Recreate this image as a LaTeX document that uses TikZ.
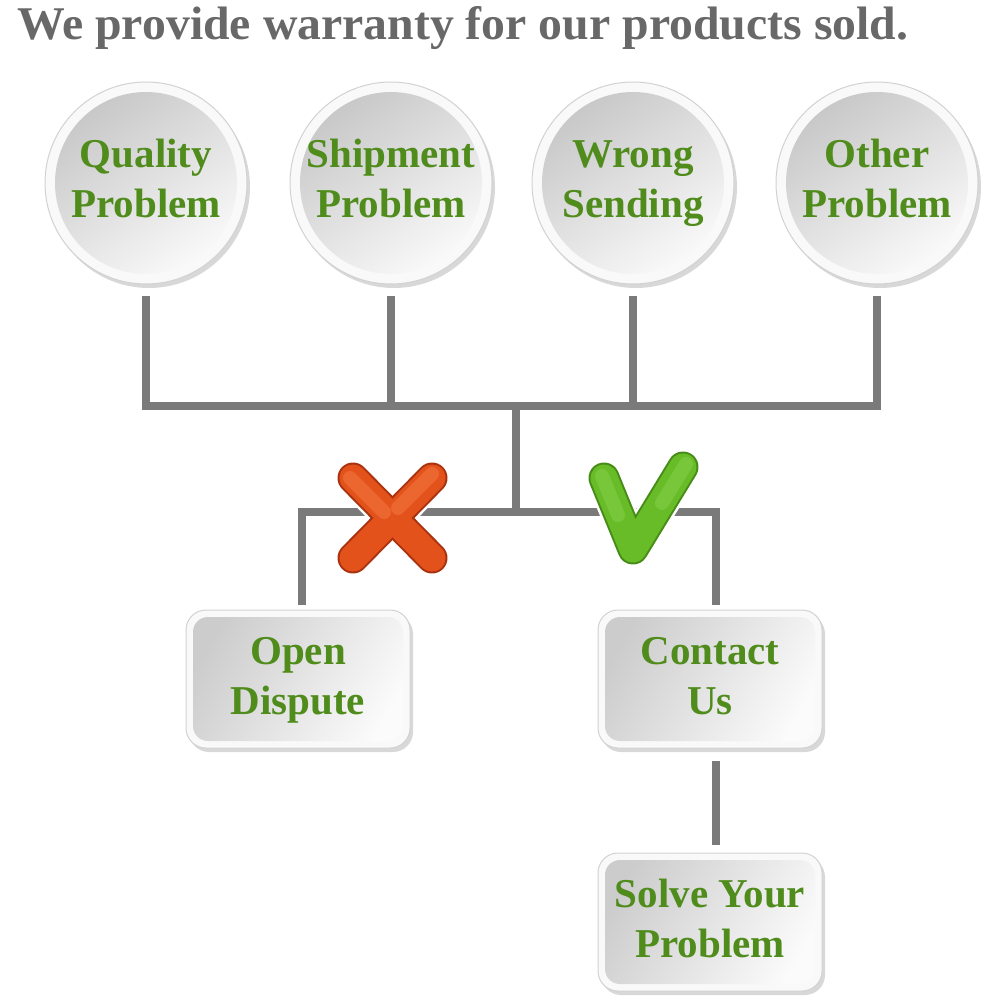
\documentclass[tikz,border=0pt]{standalone}
\usepackage{fontspec}
\usepackage{graphicx}
\setmainfont{Liberation Serif}
\usetikzlibrary{shadows,backgrounds}
\definecolor{lineg}{RGB}{122,122,122}
\definecolor{txtg}{RGB}{80,140,28}
\definecolor{titleg}{RGB}{104,104,104}
\definecolor{xfill}{RGB}{228,82,28}
\definecolor{xlight}{RGB}{240,118,60}
\definecolor{xdark}{RGB}{170,50,14}
\definecolor{vfill}{RGB}{104,188,40}
\definecolor{vlight}{RGB}{132,206,70}
\definecolor{vdark}{RGB}{70,140,22}
\tikzset{
  greentext/.style={text=txtg, align=center, font=\fontsize{41}{50}\selectfont\bfseries},
  bubble/.style={circle, minimum size=202pt, inner sep=0pt, fill=gray!5, draw=gray!35,
    line width=1pt,
    drop shadow={shadow xshift=3pt, shadow yshift=-4pt, opacity=0.3, fill=gray},
    path picture={\shade[top color=gray!45, bottom color=gray!3, shading angle=35]
      (path picture bounding box.center) circle (91pt);},
    greentext},
  panel/.style={rectangle, rounded corners=20pt, minimum width=224pt, minimum height=138pt,
    inner sep=0pt, fill=gray!5, draw=gray!35, line width=1pt,
    drop shadow={shadow xshift=3pt, shadow yshift=-4pt, opacity=0.3, fill=gray},
    path picture={\shade[rounded corners=15pt, top color=gray!40, bottom color=gray!3, shading angle=60]
      ([shift={(7pt,-7pt)}]path picture bounding box.north west) rectangle
      ([shift={(-7pt,7pt)}]path picture bounding box.south east);},
    greentext},
  conn/.style={draw=lineg, line width=8pt},
}
\begin{document}
\begin{tikzpicture}[x=1pt, y=-1pt]
\fill[white] (0,0) rectangle (1000,1000);
\useasboundingbox (0,0) rectangle (1000,1000);

\node[anchor=base west, text=titleg, inner sep=0pt] (title) at (17,40)
  {\resizebox{891pt}{33pt}{\bfseries We provide warranty for our products sold.}};

\node[bubble] (c1) at (146,183) {\strut Quality\\\strut Problem};
\node[bubble] (c2) at (391,183) {\strut Shipment\\\strut Problem};
\node[bubble] (c3) at (633,183) {\strut Wrong\\\strut Sending};
\node[bubble] (c4) at (877,183) {\strut Other\\\strut Problem};

\node[panel] (b1) at (298,679) {\strut Open\\\strut Dispute};
\node[panel] (b2) at (710,679) {\strut Contact\\\strut Us};
\node[panel] (b3) at (710,922) {\strut Solve Your\\\strut Problem};

\coordinate (j) at (516,406);
\coordinate (k) at (516,512);

\draw[conn, shorten <=11pt] (c1.south) |- (j);
\draw[conn, shorten <=11pt] (c2.south) |- (j);
\draw[conn, shorten <=11pt] (c3.south) |- (j);
\draw[conn, shorten <=11pt] (c4.south) |- (j);
\draw[conn] (j) -- (k);
\draw[conn, shorten >=5pt] (k) -| ([xshift=4pt]b1.north);
\draw[conn, shorten >=5pt] (k) -| ([xshift=6pt]b2.north);
\draw[conn, shorten <=12pt, shorten >=8pt] ([xshift=6pt]b2.south) -- ([xshift=6pt]b3.north);

% cross mark
\begin{scope}[line cap=round]
  \foreach \w/\c in {36/white, 31/xdark, 27/xfill} {
    \draw[line width=\w pt, draw=\c] (353,478) -- (432,558);
    \draw[line width=\w pt, draw=\c] (432,478) -- (353,558);
  }
  \draw[line width=14pt, draw=xlight, opacity=0.6] (350,478) -- (384,512);
  \draw[line width=14pt, draw=xlight, opacity=0.6] (432,474) -- (398,508);
\end{scope}

% check mark
\begin{scope}[line cap=round, line join=round]
  \foreach \w/\c in {36/white, 31/vdark, 27/vfill}
    \draw[line width=\w pt, draw=\c] (604,478) -- (633,549) -- (683,467);
  \draw[line width=14pt, draw=vlight, opacity=0.6] (602,476) -- (618,515);
  \draw[line width=14pt, draw=vlight, opacity=0.6] (686,464) -- (662,503);
\end{scope}
\end{tikzpicture}
\end{document}
